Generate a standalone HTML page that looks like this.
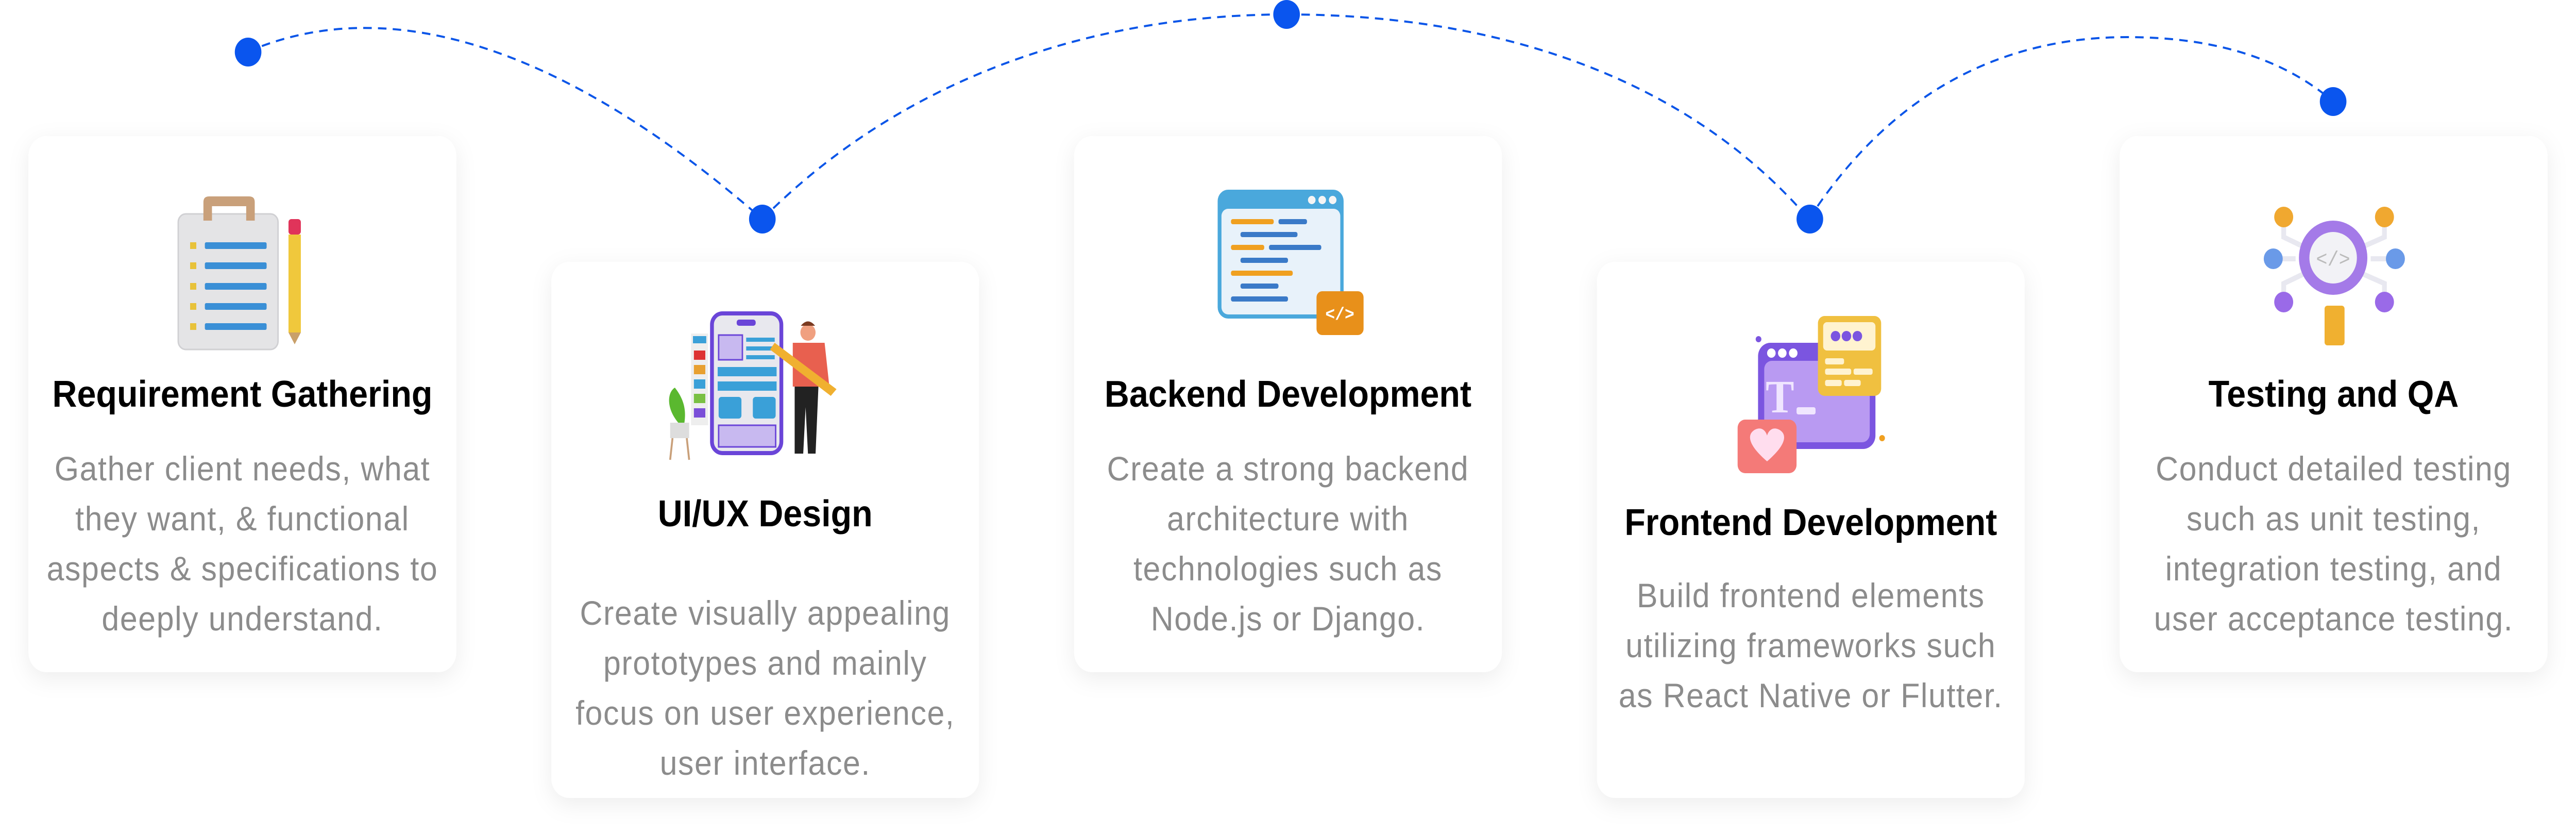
<!DOCTYPE html>
<html><head><meta charset="utf-8"><style>
html,body{margin:0;padding:0;background:#fff;width:100%;height:100%;overflow:hidden;}
svg{display:block;width:100vw;height:100vh;}
.t{font-family:"Liberation Sans",Arial,sans-serif;font-weight:bold;font-size:72px;fill:#000;text-anchor:middle;}
.b{font-family:"Liberation Sans",Arial,sans-serif;font-size:66px;letter-spacing:1.7px;fill:#8c8c8c;text-anchor:middle;}
</style></head><body>
<svg viewBox="0 0 5420 1616" preserveAspectRatio="none" xmlns="http://www.w3.org/2000/svg">
<defs>
<filter id="sh" x="-10%" y="-10%" width="120%" height="125%">
<feDropShadow dx="0" dy="12" stdDeviation="22" flood-color="#000" flood-opacity="0.07"/>
</filter>
</defs>
<rect width="5420" height="1616" fill="#fff"/>
<g fill="#fff" filter="url(#sh)">
<rect x="60" y="264" width="900" height="1040" rx="38"/>
<rect x="1160" y="508" width="900" height="1040" rx="38"/>
<rect x="2260" y="264" width="900" height="1040" rx="38"/>
<rect x="3360" y="508" width="900" height="1040" rx="38"/>
<rect x="4460" y="264" width="900" height="1040" rx="38"/>
</g>
<text class="t" x="510" y="789">Requirement Gathering</text>
<text class="b" x="510" y="932">Gather client needs, what</text>
<text class="b" x="510" y="1029">they want, &amp; functional</text>
<text class="b" x="510" y="1126">aspects &amp; specifications to</text>
<text class="b" x="510" y="1223">deeply understand.</text>

<text class="t" x="1610" y="1021">UI/UX Design</text>
<text class="b" x="1610" y="1212">Create visually appealing</text>
<text class="b" x="1610" y="1309">prototypes and mainly</text>
<text class="b" x="1610" y="1406">focus on user experience,</text>
<text class="b" x="1610" y="1503">user interface.</text>

<text class="t" x="2710" y="789">Backend Development</text>
<text class="b" x="2710" y="932">Create a strong backend</text>
<text class="b" x="2710" y="1029">architecture with</text>
<text class="b" x="2710" y="1126">technologies such as</text>
<text class="b" x="2710" y="1223">Node.js or Django.</text>

<text class="t" x="3810" y="1038">Frontend Development</text>
<text class="b" x="3810" y="1178">Build frontend elements</text>
<text class="b" x="3810" y="1275">utilizing frameworks such</text>
<text class="b" x="3810" y="1372">as React Native or Flutter.</text>

<text class="t" x="4910" y="789">Testing and QA</text>
<text class="b" x="4910" y="932">Conduct detailed testing</text>
<text class="b" x="4910" y="1029">such as unit testing,</text>
<text class="b" x="4910" y="1126">integration testing, and</text>
<text class="b" x="4910" y="1223">user acceptance testing.</text>

<g fill="none" stroke="#0a55e8" stroke-width="4" stroke-dasharray="18 13">
<path d="M522,100 C700,30 1050,-20 1604,425"/>
<path d="M1604,425 C1900,150 2300,28 2707,28"/>
<path d="M2707,28 C3150,28 3550,150 3806,425"/>
<path d="M3806,425 C4000,150 4250,72 4476,72 C4650,72 4800,110 4909,197"/>
</g>
<g fill="#0a55ee">
<circle cx="522" cy="101" r="28"/><circle cx="1604" cy="425" r="28"/><circle cx="2707" cy="28" r="28"/><circle cx="3808" cy="425" r="28"/><circle cx="4909" cy="197" r="28"/>
</g>
<!-- icon 1 -->
<rect x="375" y="415" width="210" height="263" rx="16" fill="#e4e4e6" stroke="#d0d0d3" stroke-width="3"/>
<path d="M428,428 V392 Q428,381 440,381 H524 Q536,381 536,392 V428 H518 V400 H446 V428 Z" fill="#c9a07a"/>
<g fill="#e8c23a"><rect x="400" y="470" width="13" height="13"/><rect x="400" y="509" width="13" height="13"/><rect x="400" y="549" width="13" height="13"/><rect x="400" y="588" width="13" height="13"/><rect x="400" y="627" width="13" height="13"/></g>
<g fill="#3a8fd6"><rect x="431" y="470" width="130" height="13" rx="3"/><rect x="431" y="509" width="130" height="13" rx="3"/><rect x="431" y="549" width="130" height="13" rx="3"/><rect x="431" y="588" width="130" height="13" rx="3"/><rect x="431" y="627" width="130" height="13" rx="3"/></g>
<rect x="607" y="425" width="26" height="30" rx="6" fill="#e0345a"/><rect x="607" y="455" width="26" height="190" fill="#f0c83c"/><path d="M607,645 L620,668 L633,645 Z" fill="#c9a06a"/>
<!-- icon 2 -->
<rect x="1454" y="647" width="36" height="178" fill="#eee"/>
<g><rect x="1458" y="652" width="28" height="14" fill="#3aa0d8"/><rect x="1460" y="680" width="24" height="18" fill="#d33"/><rect x="1460" y="708" width="24" height="18" fill="#e8a030"/><rect x="1460" y="736" width="24" height="18" fill="#3aa0d8"/><rect x="1460" y="764" width="24" height="18" fill="#7ac043"/><rect x="1460" y="792" width="24" height="18" fill="#7b4fd8"/></g>
<path d="M1427,820 C1400,790 1405,760 1420,752 C1435,770 1445,790 1440,820 Z" fill="#5ab82f"/>
<rect x="1410" y="820" width="40" height="30" fill="#ddd"/><path d="M1415,850 L1410,892 M1445,850 L1450,892" stroke="#c9a07a" stroke-width="4"/>
<rect x="1498" y="608" width="146" height="271" rx="22" fill="#e8e8ee" stroke="#6a45d8" stroke-width="8"/>
<rect x="1550" y="620" width="40" height="12" rx="5" fill="#6a45d8"/>
<rect x="1512" y="650" width="50" height="48" fill="#c8b9f0" stroke="#6a45d8" stroke-width="3"/>
<g fill="#3aa0d8"><rect x="1570" y="655" width="60" height="8"/><rect x="1570" y="672" width="60" height="8"/><rect x="1570" y="689" width="60" height="8"/><rect x="1510" y="712" width="124" height="18"/><rect x="1510" y="740" width="124" height="18"/><rect x="1512" y="770" width="48" height="42" rx="6"/><rect x="1584" y="770" width="48" height="42" rx="6"/></g>
<rect x="1512" y="825" width="120" height="42" fill="#c8b9f0" stroke="#6a45d8" stroke-width="3"/>
<circle cx="1700" cy="645" r="16" fill="#f0a080"/><path d="M1685,632 Q1700,615 1715,632 Z" fill="#7a3a20"/>
<path d="M1668,665 H1735 L1745,750 H1668 Z" fill="#e8604f"/>
<path d="M1672,750 H1722 L1716,880 H1700 L1695,790 L1690,880 H1672 Z" fill="#222"/>
<path d="M1630,665 L1760,755 L1748,768 L1620,678 Z" fill="#f0b030"/>
<!-- icon 3 -->
<rect x="2562" y="368" width="265" height="250" rx="22" fill="#4aa8dc"/>
<rect x="2570" y="405" width="250" height="205" rx="14" fill="#e8f2fa"/>
<g fill="#f5f5f5"><circle cx="2760" cy="388" r="8"/><circle cx="2782" cy="388" r="8"/><circle cx="2804" cy="388" r="8"/></g>
<g><rect x="2590" y="425" width="90" height="10" rx="4" fill="#f0a020"/><rect x="2690" y="425" width="60" height="10" rx="4" fill="#3a7ac8"/><rect x="2610" y="450" width="120" height="10" rx="4" fill="#3a7ac8"/><rect x="2590" y="475" width="70" height="10" rx="4" fill="#f0a020"/><rect x="2670" y="475" width="110" height="10" rx="4" fill="#3a7ac8"/><rect x="2610" y="500" width="100" height="10" rx="4" fill="#3a7ac8"/><rect x="2590" y="525" width="130" height="10" rx="4" fill="#f0a020"/><rect x="2610" y="550" width="80" height="10" rx="4" fill="#3a7ac8"/><rect x="2590" y="575" width="120" height="10" rx="4" fill="#3a7ac8"/></g>
<rect x="2770" y="565" width="99" height="85" rx="12" fill="#e8901a"/>
<text x="2819" y="620" font-family="Liberation Mono,monospace" font-size="34" font-weight="bold" fill="#fff" text-anchor="middle">&lt;/&gt;</text>
<!-- icon 4 -->
<rect x="3699" y="665" width="247" height="206" rx="26" fill="#7b55e0"/>
<rect x="3712" y="700" width="222" height="158" rx="16" fill="#b99af2"/>
<g fill="#fff"><circle cx="3727" cy="685" r="9"/><circle cx="3750" cy="685" r="9"/><circle cx="3773" cy="685" r="9"/></g>
<text x="3715" y="800" font-family="Liberation Serif,serif" font-size="90" font-weight="bold" fill="#f0e6ff">T</text>
<rect x="3780" y="790" width="40" height="14" rx="4" fill="#f0e6ff"/>
<rect x="3825" y="613" width="133" height="155" rx="14" fill="#f0c040"/>
<rect x="3836" y="625" width="110" height="55" rx="8" fill="#fff3d0"/>
<g fill="#7b55e0"><circle cx="3862" cy="652" r="10"/><circle cx="3885" cy="652" r="10"/><circle cx="3908" cy="652" r="10"/></g>
<g fill="#fff3d0"><rect x="3840" y="695" width="40" height="12" rx="4"/><rect x="3840" y="715" width="55" height="12" rx="4"/><rect x="3900" y="715" width="40" height="12" rx="4"/><rect x="3840" y="737" width="35" height="12" rx="4"/><rect x="3880" y="737" width="35" height="12" rx="4"/></g>
<rect x="3656" y="814" width="124" height="104" rx="16" fill="#f47a78"/>
<path d="M3718,895 C3680,865 3675,845 3690,835 C3705,826 3715,835 3718,845 C3721,835 3731,826 3746,835 C3761,845 3756,865 3718,895 Z" fill="#fde"/>
<circle cx="3700" cy="658" r="6" fill="#7b55e0"/><circle cx="3960" cy="850" r="6" fill="#f0a020"/>
<!-- icon 5 -->
<g stroke="#e8e8f0" stroke-width="10" fill="none"><path d="M4805,421 V460 L4850,480"/><path d="M5017,421 V460 L4968,480"/><path d="M4783,502 H4830"/><path d="M5040,502 H4988"/><path d="M4805,586 V550 L4850,530"/><path d="M5017,586 V550 L4968,530"/></g>
<rect x="4891" y="593" width="42" height="77" rx="6" fill="#f0b030"/>
<circle cx="4909" cy="500" r="72" fill="#a47ae8"/><circle cx="4909" cy="500" r="50" fill="#f2f2f6"/>
<text x="4909" y="515" font-family="Liberation Mono,monospace" font-size="40" fill="#bbb" text-anchor="middle">&lt;/&gt;</text>
<circle cx="4805" cy="421" r="20" fill="#f0a830"/><circle cx="5017" cy="421" r="20" fill="#f0a830"/>
<circle cx="4783" cy="502" r="20" fill="#6a9ae8"/><circle cx="5040" cy="502" r="20" fill="#6a9ae8"/>
<circle cx="4805" cy="586" r="20" fill="#9a6ae8"/><circle cx="5017" cy="586" r="20" fill="#9a6ae8"/>
</svg>
</body></html>
